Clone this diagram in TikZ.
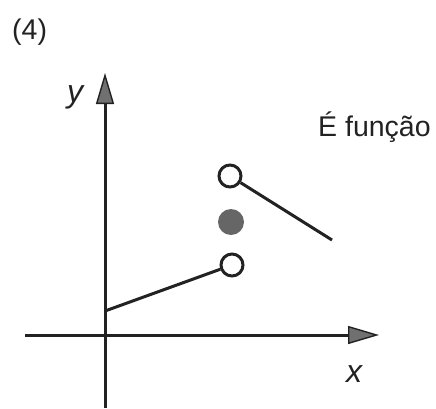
\documentclass[tikz,border=0pt]{standalone}
\usepackage{fontspec}
\setmainfont{Liberation Sans}
\usetikzlibrary{arrows.meta,positioning}
\definecolor{inkgray}{HTML}{222222}
\definecolor{tipgray}{HTML}{707070}
\definecolor{dotgray}{HTML}{666666}

\begin{document}
\begin{tikzpicture}[
    x=1pt, y=1pt,
    axis/.style={draw=inkgray, line width=3pt, -{Triangle[length=31pt,width=18pt,fill=tipgray,line width=1.4pt]}},
    graphline/.style={draw=inkgray, line width=3pt},
    hole/.style={circle, draw=inkgray, line width=3pt, fill=white, minimum size=22pt, inner sep=0pt},
    dot/.style={circle, fill=dotgray, minimum size=26pt, inner sep=0pt},
    axislabel/.style={font=\fontsize{32pt}{36pt}\selectfont\itshape, text=inkgray, inner sep=0pt},
    bigtext/.style={font=\fontsize{28.5pt}{32pt}\selectfont, text=inkgray, inner sep=0pt},
]
    \useasboundingbox (0,0) rectangle (436,408);

    % Axes
    \coordinate (O) at (105,73);
    \coordinate (xstart) at (25,73);
    \coordinate (xend) at (379,73);
    \coordinate (ystart) at (105,0);
    \coordinate (yend) at (105,335);
    \draw[axis] (xstart) -- (xend);
    \draw[axis] (ystart) -- (yend);
    \node[axislabel] (ylab) at (75,311) {y};
    \node[axislabel] (xlab) at (354,34) {x};

    % Titles
    \node[bigtext, anchor=base west] (num) at (12,368) {(4)};
    \node[bigtext, anchor=base west] (verdict) at (318,272) {É função};

    % Lower piece: starts on the y axis, open end
    \coordinate (lowstart) at (105,97);
    \node[hole] (lowhole) at (232,143) {};
    \draw[graphline] (lowstart) -- (lowhole);

    % Value at the jump
    \node[dot] (jumpdot) at (231,186) {};

    % Upper piece: open end, goes down to the right
    \node[hole] (uphole) at (230,232) {};
    \coordinate (upend) at (332,168);
    \draw[graphline] (uphole) -- (upend);
\end{tikzpicture}
\end{document}
